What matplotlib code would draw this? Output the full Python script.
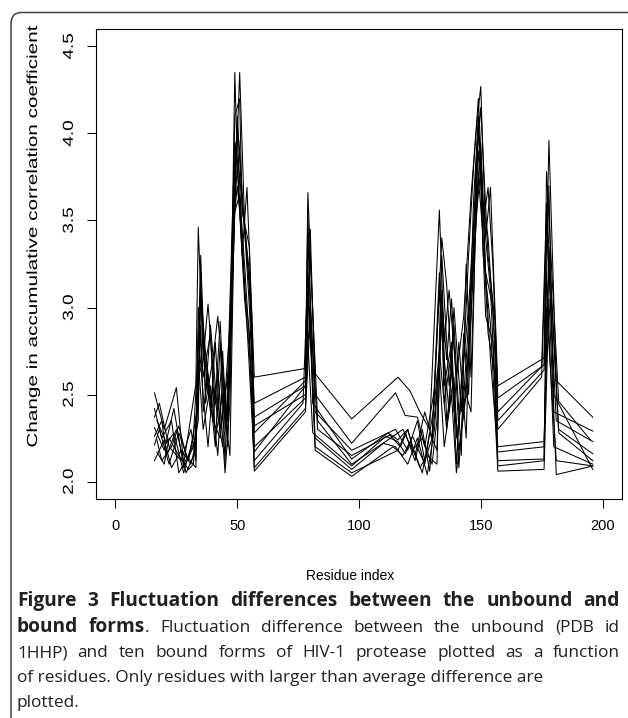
import matplotlib
matplotlib.use("Agg")
import matplotlib.pyplot as plt
from matplotlib.patches import FancyBboxPatch
from matplotlib.patheffects import AbstractPathEffect
from matplotlib.transforms import Affine2D

W, H = 628, 718

# --- data: ten bound forms, residues with larger than average difference ---
x1 = [16, 20, 25, 28, 33, 34, 36, 38, 41, 43, 45, 47, 49, 50, 52, 54, 57, 78, 79, 82, 97, 116, 121, 125, 129, 133, 135, 137, 140, 143, 146, 148, 150, 152, 154, 157, 176, 178, 181, 196]
y1 = [2.51, 2.30, 2.54, 2.10, 2.56, 3.46, 2.70, 3.02, 2.45, 2.92, 2.30, 2.60, 4.35, 3.85, 3.30, 3.69, 2.60, 2.65, 3.66, 2.62, 2.36, 2.60, 2.52, 2.40, 2.30, 3.56, 2.80, 3.10, 2.60, 2.95, 3.64, 4.00, 4.27, 3.40, 3.69, 2.55, 2.71, 3.96, 2.58, 2.37]
x2 = [16, 19, 23, 26, 30, 33, 35, 37, 39, 42, 44, 46, 48, 51, 53, 55, 57, 78, 80, 82, 97, 115, 119, 124, 127, 131, 134, 136, 139, 141, 144, 147, 149, 151, 153, 155, 157, 176, 177, 182, 195]
y2 = [2.42, 2.25, 2.35, 2.05, 2.15, 2.25, 3.30, 2.50, 2.90, 2.38, 2.75, 2.20, 3.20, 4.35, 3.50, 3.10, 2.45, 2.60, 3.45, 2.50, 2.22, 2.51, 2.38, 2.37, 2.20, 2.53, 3.40, 3.13, 2.40, 2.80, 2.25, 3.60, 4.10, 3.48, 3.69, 3.24, 2.48, 2.67, 3.78, 2.46, 2.24]
x3 = [16, 18, 22, 27, 31, 33, 34, 36, 39, 41, 44, 47, 49, 50, 52, 55, 57, 78, 79, 81, 97, 112, 117, 120, 123, 127, 130, 133, 136, 138, 141, 143, 145, 148, 150, 153, 156, 157, 176, 178, 180, 196]
y3 = [2.37, 2.45, 2.20, 2.12, 2.30, 2.12, 3.00, 2.60, 2.85, 2.25, 2.50, 2.15, 3.70, 4.10, 3.60, 3.20, 2.37, 2.55, 3.55, 2.45, 2.13, 2.28, 2.20, 2.30, 2.15, 2.40, 2.25, 3.20, 2.70, 3.05, 2.30, 2.85, 2.50, 3.80, 4.15, 3.30, 2.90, 2.35, 2.64, 3.70, 2.40, 2.29]
x4 = [16, 20, 24, 28, 32, 34, 35, 37, 40, 42, 46, 48, 50, 51, 53, 55, 57, 78, 80, 83, 97, 113, 118, 122, 126, 130, 132, 134, 137, 139, 142, 144, 146, 149, 150, 152, 155, 157, 175, 177, 181, 196]
y4 = [2.31, 2.18, 2.42, 2.08, 2.20, 2.35, 3.20, 2.45, 2.70, 2.95, 2.35, 3.30, 4.05, 3.90, 3.45, 3.00, 2.32, 2.50, 3.30, 2.35, 2.10, 2.25, 2.30, 2.18, 2.25, 2.10, 2.35, 3.30, 2.55, 2.90, 2.15, 3.25, 2.60, 4.00, 3.90, 3.20, 3.00, 2.30, 2.60, 3.50, 2.35, 2.23]
x5 = [16, 19, 21, 25, 29, 33, 35, 36, 38, 41, 43, 45, 48, 49, 51, 54, 56, 57, 78, 79, 82, 97, 110, 115, 120, 124, 128, 131, 134, 135, 138, 140, 142, 145, 148, 149, 151, 154, 157, 176, 178, 182, 196]
y5 = [2.26, 2.35, 2.15, 2.30, 2.05, 2.18, 2.90, 2.40, 2.62, 2.20, 2.80, 2.10, 3.50, 3.95, 3.75, 3.30, 2.95, 2.20, 2.48, 3.10, 2.25, 2.07, 2.22, 2.20, 2.10, 2.25, 2.04, 2.30, 2.95, 2.45, 2.75, 2.10, 2.55, 3.00, 3.70, 4.05, 3.55, 3.10, 2.20, 2.23, 3.35, 2.30, 2.16]
x6 = [16, 18, 22, 26, 30, 34, 35, 38, 40, 42, 45, 47, 49, 50, 52, 54, 57, 77, 79, 82, 97, 116, 119, 123, 126, 129, 133, 134, 136, 139, 141, 144, 147, 149, 150, 152, 155, 157, 176, 177, 180, 196]
y6 = [2.21, 2.30, 2.10, 2.28, 2.12, 2.45, 3.10, 2.55, 2.35, 2.65, 2.05, 2.45, 3.85, 4.00, 3.40, 2.90, 2.12, 2.45, 3.20, 2.20, 2.05, 2.18, 2.28, 2.12, 2.30, 2.06, 2.70, 3.10, 2.35, 2.60, 2.08, 2.70, 3.35, 3.90, 3.70, 2.95, 2.80, 2.12, 2.13, 3.20, 2.20, 2.10]
x7 = [16, 20, 23, 27, 31, 33, 34, 36, 39, 42, 44, 46, 49, 50, 53, 55, 57, 78, 80, 82, 97, 114, 118, 121, 125, 128, 132, 133, 135, 138, 140, 143, 146, 148, 150, 151, 154, 157, 176, 178, 181, 196]
y7 = [2.12, 2.24, 2.08, 2.18, 2.10, 2.22, 2.70, 2.30, 2.55, 2.15, 2.60, 2.25, 3.60, 3.80, 3.10, 2.85, 2.06, 2.40, 2.95, 2.18, 2.03, 2.20, 2.15, 2.23, 2.08, 2.15, 2.10, 2.65, 2.20, 2.50, 2.05, 2.40, 2.95, 3.50, 3.80, 3.30, 2.90, 2.06, 2.07, 3.05, 2.04, 2.09]
x8 = [17, 21, 24, 28, 32, 35, 37, 39, 41, 43, 47, 49, 51, 52, 55, 57, 78, 79, 82, 97, 115, 120, 124, 127, 130, 133, 134, 137, 139, 142, 145, 147, 149, 151, 153, 156, 157, 175, 177, 182, 196]
y8 = [2.35, 2.22, 2.28, 2.05, 2.25, 3.05, 2.65, 2.40, 2.80, 2.30, 2.70, 4.10, 4.20, 3.55, 3.35, 2.28, 2.58, 3.40, 2.40, 2.18, 2.30, 2.18, 2.35, 2.12, 2.25, 3.10, 2.85, 2.40, 3.00, 2.40, 3.30, 3.80, 4.20, 3.60, 3.40, 2.75, 2.40, 2.66, 3.60, 2.28, 2.12]
x9 = [17, 19, 23, 26, 29, 33, 34, 36, 38, 40, 44, 46, 48, 50, 51, 53, 56, 57, 78, 80, 83, 97, 113, 116, 120, 122, 126, 129, 132, 134, 135, 138, 140, 143, 146, 148, 150, 152, 154, 157, 176, 178, 180, 196]
y9 = [2.24, 2.12, 2.20, 2.32, 2.15, 2.08, 2.85, 2.50, 2.20, 2.55, 2.20, 2.40, 3.40, 3.70, 3.55, 3.05, 2.60, 2.17, 2.55, 3.00, 2.30, 2.15, 2.27, 2.24, 2.30, 2.20, 2.05, 2.28, 2.18, 3.00, 2.55, 2.80, 2.25, 2.55, 2.40, 3.55, 3.95, 3.20, 2.70, 2.17, 2.20, 3.25, 2.50, 2.07]
x10 = [17, 20, 22, 26, 30, 32, 34, 37, 40, 43, 45, 48, 49, 51, 53, 55, 57, 78, 79, 81, 97, 111, 116, 119, 122, 127, 131, 133, 136, 138, 141, 144, 146, 148, 149, 151, 153, 156, 157, 176, 177, 181, 196]
y10 = [2.17, 2.10, 2.25, 2.15, 2.07, 2.10, 2.60, 2.75, 2.35, 2.25, 2.50, 3.10, 3.55, 3.65, 3.25, 2.80, 2.08, 2.42, 2.80, 2.28, 2.09, 2.26, 2.23, 2.16, 2.26, 2.10, 2.45, 2.75, 2.30, 2.65, 2.18, 2.50, 3.10, 3.45, 3.75, 3.40, 2.85, 2.60, 2.09, 2.12, 3.00, 2.12, 2.09]

series = [(x1, y1), (x2, y2), (x3, y3), (x4, y4), (x5, y5),
          (x6, y6), (x7, y7), (x8, y8), (x9, y9), (x10, y10)]

xticks = [0, 50, 100, 150, 200]
yticks = [2.0, 2.5, 3.0, 3.5, 4.0, 4.5]
xlabel = "Residue index"
ylabel = "Change in accumulative correlation coefficient"

# caption lines: list of words, each word a list of (text, bold) runs
cap_lines = [
    ([[("Figure", 1)], [("3", 1)], [("Fluctuation", 1)], [("differences", 1)], [("between", 1)],
      [("the", 1)], [("unbound", 1)], [("and", 1)]], True),
    ([[("bound", 1)], [("forms", 1), (".", 0)], [("Fluctuation", 0)], [("difference", 0)],
      [("between", 0)], [("the", 0)], [("unbound", 0)], [("(PDB", 0)], [("id", 0)]], True),
    ([[(w, 0)] for w in "1HHP) and ten bound forms of HIV-1 protease plotted as a function".split()], True),
    ([[("of residues. Only residues with larger than average difference are", 0)]], False),
    ([[("plotted.", 0)]], False),
]


class StretchY(AbstractPathEffect):
    """Stretch the text vertically about its own centre (the R panel was
    scaled taller than wide in the article)."""

    def __init__(self, sy):
        super().__init__()
        self.sy = sy

    def draw_path(self, renderer, gc, tpath, affine, rgbFace=None):
        ext = tpath.get_extents(affine)
        cy = (ext.y0 + ext.y1) / 2
        st = Affine2D().translate(0, -cy).scale(1, self.sy).translate(0, cy)
        renderer.draw_path(gc, tpath, affine + st, rgbFace)


plt.rcParams["font.family"] = ["Liberation Sans", "DejaVu Sans"]

fig = plt.figure(figsize=(W / 100, H / 100), dpi=100)


def fx(px):
    return px / W


def fy(py):
    return 1 - py / H


ax = fig.add_axes([fx(96), fy(499), fx(622) - fx(96), fy(29) - fy(499)])
for xs, ys in series:
    ax.plot(xs, ys, color="black", lw=0.75)

ax.set_xlim(-8, 208)
ax.set_ylim(1.9, 4.6)
ax.set_xticks(xticks)
ax.set_xticklabels([str(t) for t in xticks])
ax.set_yticks(yticks)
ax.set_yticklabels([f"{t:.1f}" for t in yticks], rotation=90, va="center")
ax.tick_params(direction="out", length=6.5, width=0.75, labelsize=10.5, pad=8)
for lab in ax.get_yticklabels():
    lab.set_path_effects([StretchY(1.3)])
for s in ax.spines.values():
    s.set_linewidth(0.8)

fig.text(fx(350), fy(576), xlabel, ha="center", va="center", fontsize=10)
fig.text(fx(33), fy(235), ylabel, ha="center", va="center", rotation=90,
         fontsize=10.5, path_effects=[StretchY(1.42)])

# rounded frame around figure + caption
frame = FancyBboxPatch((fx(11), fy(730)), fx(640) - fx(11), fy(12.5) - fy(730),
                       boxstyle="round,pad=0,rounding_size=0.016",
                       transform=fig.transFigure, fill=False,
                       edgecolor="#444444", lw=1.1, clip_on=False)
fig.patches.append(frame)

# caption, justified like the journal layout
cap_color = "#231f20"
cap_font = ["Open Sans", "DejaVu Sans"]
size_norm, size_bold = 12.4, 13.8
left, right = 17, 620
baselines = [606, 632, 657, 682, 707]
fig.canvas.draw()
rend = fig.canvas.get_renderer()


def run_width(text, bold):
    t = fig.text(0, 0, text, fontsize=size_bold if bold else size_norm, family=cap_font,
                 fontweight="bold" if bold else "normal")
    w = t.get_window_extent(renderer=rend).width
    t.remove()
    return w


for (words, justify), base in zip(cap_lines, baselines):
    widths = [sum(run_width(t, b) for t, b in wd) for wd in words]
    if justify and len(words) > 1:
        gap = (right - left - sum(widths)) / (len(words) - 1)
    else:
        gap = run_width("a a", 0) - run_width("aa", 0)
    px = left
    for wd, ww in zip(words, widths):
        cx = px
        for t, b in wd:
            fig.text(fx(cx), fy(base), t, fontsize=size_bold if b else size_norm,
                     family=cap_font, fontweight="bold" if b else "normal",
                     color=cap_color, ha="left", va="baseline")
            cx += run_width(t, b)
        px += ww + gap

fig.savefig("out.png", dpi=100)
